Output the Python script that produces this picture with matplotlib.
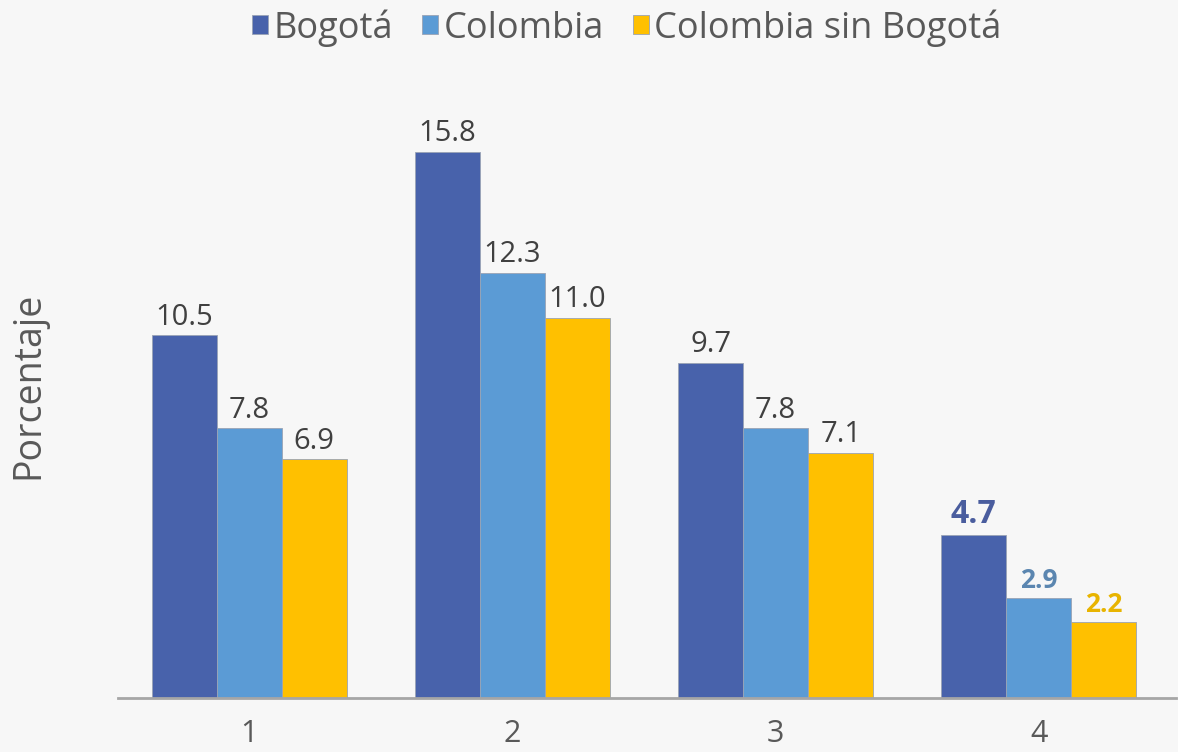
import matplotlib.pyplot as plt
import numpy as np

# data
groups = ['1', '2', '3', '4']
series = ['Bogotá', 'Colombia', 'Colombia sin Bogotá']
bogota = [10.5, 15.8, 9.7, 4.7]
colombia = [7.8, 12.3, 7.8, 2.9]
sin_bogota = [6.9, 11.0, 7.1, 2.2]

colors = ['#4862ab', '#5b9bd5', '#ffc000']
last_label_colors = ['#4a5d9e', '#5b86b0', '#e8b400']

plt.rcParams['font.family'] = ['Open Sans', 'DejaVu Sans']

fig = plt.figure(figsize=(11.78, 7.52), dpi=100, facecolor='#f7f7f7')
ax = fig.add_axes([0.100, 0.072, 0.898, 0.85])
ax.set_facecolor('#f7f7f7')

x = np.arange(len(groups))
w = 0.247
values = [bogota, colombia, sin_bogota]
for i, (vals, c) in enumerate(zip(values, colors)):
    pos = x + (i - 1) * w
    bars = ax.bar(pos, vals, width=w, color=c, edgecolor='#9aa3b5', linewidth=0.6,
                  label=series[i])
    for j, (p, v) in enumerate(zip(pos, vals)):
        if j == len(groups) - 1:
            ax.text(p, v + 0.12, f'{v:.1f}', ha='center', va='bottom',
                    fontsize=23 if i == 0 else 19, fontweight='bold',
                    color=last_label_colors[i])
        else:
            ax.text(p, v + 0.1, f'{v:.1f}', ha='center', va='bottom',
                    fontsize=21, color='#404040')

ax.set_xlim(-0.5, 3.52)
ax.set_ylim(0, 18.5)
ax.set_xticks(x)
ax.set_xticklabels(groups, fontsize=22, color='#595959')
ax.tick_params(axis='x', length=0, pad=15)
ax.set_yticks([])
for s in ['top', 'right', 'left']:
    ax.spines[s].set_visible(False)
ax.spines['bottom'].set_color('#a6a6a6')
ax.spines['bottom'].set_linewidth(2)

fig.text(0.024, 0.487, 'Porcentaje', rotation=90, ha='center', va='center',
         fontsize=27, color='#595959')

leg = fig.legend(loc='center', bbox_to_anchor=(0.532, 0.963), ncol=3, frameon=False,
                 fontsize=26, handlelength=0.45, handleheight=0.45, handletextpad=0.15,
                 columnspacing=0.8, labelcolor='#595959')

fig.savefig('out.png', dpi=100, facecolor=fig.get_facecolor())
